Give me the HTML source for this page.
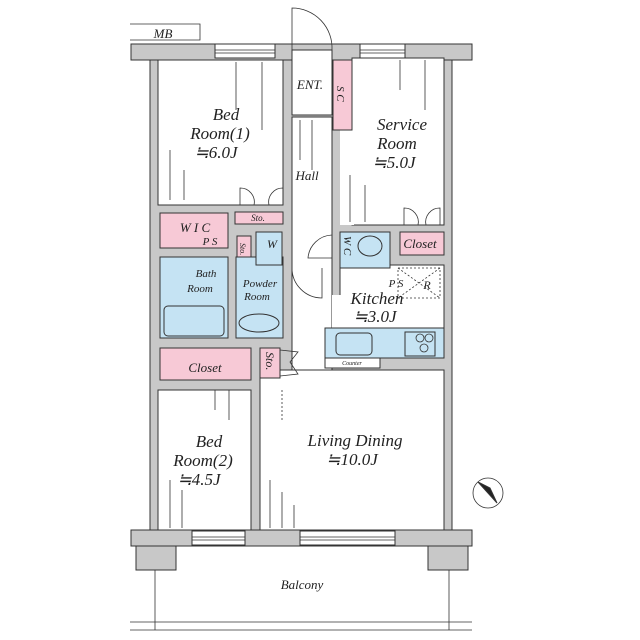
<!DOCTYPE html>
<html><head><meta charset="utf-8"><style>
html,body{margin:0;padding:0;background:#fff;width:640px;height:640px;overflow:hidden}
text{font-family:"Liberation Serif",serif;font-style:italic;fill:#222}
</style></head><body>
<svg width="640" height="640" viewBox="0 0 640 640" xmlns="http://www.w3.org/2000/svg">
<g stroke="#333" stroke-width="1">
<!-- MB -->
<polyline points="130,40 200,40 200,24 130,24" fill="none" stroke-width="0.8"/>
<!-- gray shell -->
<rect x="150" y="44" width="302" height="502" fill="#c8c8c8"/>
<rect x="131" y="44" width="341" height="16" fill="#c8c8c8"/>
<rect x="131" y="530" width="341" height="16" fill="#c8c8c8"/>
<rect x="136" y="546" width="40" height="24" fill="#c8c8c8"/>
<rect x="428" y="546" width="40" height="24" fill="#c8c8c8"/>
<!-- rooms -->
<g fill="#fff">
<rect x="158" y="60" width="125" height="145"/>
<rect x="292" y="50" width="40" height="65"/>
<rect x="292" y="117" width="40" height="253"/>
<rect x="352" y="58" width="92" height="167"/>
<rect x="340" y="130" width="14" height="95" stroke="none"/>
<rect x="340" y="265" width="104" height="63"/>
<rect x="260" y="370" width="184" height="160"/>
<rect x="332" y="295" width="12" height="33" stroke="none"/>
<rect x="158" y="390" width="93" height="140"/>
<rect x="325" y="358" width="55" height="10"/>
</g>
<g fill="#f7c9d6">
<rect x="333" y="60" width="19" height="70"/>
<rect x="400" y="232" width="44" height="23"/>
<rect x="160" y="213" width="68" height="35"/>
<rect x="235" y="212" width="48" height="12"/>
<rect x="237" y="236" width="14" height="27"/>
<rect x="160" y="348" width="91" height="32"/>
<rect x="260" y="348" width="20" height="30"/>
</g>
<g fill="#c5e3f3">
<rect x="340" y="232" width="50" height="36"/>
<rect x="160" y="257" width="68" height="81"/>
<rect x="236" y="257" width="47" height="81"/>
<rect x="256" y="232" width="26" height="33"/>
<rect x="325" y="328" width="119" height="30"/>
<rect x="164" y="306" width="60" height="30" rx="4"/>
<rect x="336" y="333" width="36" height="22" rx="4"/>
<rect x="405" y="332" width="30" height="24"/>
<ellipse cx="259" cy="323" rx="20" ry="9"/>
<ellipse cx="370" cy="246" rx="12" ry="10"/>
</g>
<!-- windows -->
<g fill="#fff">
<rect x="215" y="44" width="60" height="14"/><rect x="360" y="44" width="45" height="14"/>
<rect x="192" y="531" width="53" height="14"/><rect x="300" y="531" width="95" height="14"/>
</g>
<g fill="none" stroke-width="0.8">
<line x1="215" y1="50" x2="275" y2="50"/><line x1="215" y1="53" x2="275" y2="53"/>
<line x1="360" y1="50" x2="405" y2="50"/><line x1="360" y1="53" x2="405" y2="53"/>
<line x1="192" y1="537" x2="245" y2="537"/><line x1="192" y1="540" x2="245" y2="540"/>
<line x1="300" y1="537" x2="395" y2="537"/><line x1="300" y1="540" x2="395" y2="540"/>
<!-- doors -->
<path d="M292,50 L292,8 A40,40 0 0 1 332,50"/>
<path d="M240,205 L240,188 A14,14 0 0 1 254,205 M283,205 L283,188 A14,14 0 0 0 269,205"/>
<path d="M404,225 L404,208 A14,14 0 0 1 418,225 M440,225 L440,208 A14,14 0 0 0 426,225"/>
<path d="M332,235 A25,25 0 0 0 308,258 L332,258"/>
<path d="M292,268 A30,30 0 0 0 322,298 L322,268"/>
<path d="M280,350 L298,352 L290,362 L298,374 L280,376"/>
<circle cx="420" cy="338" r="4"/><circle cx="429" cy="338" r="4"/><circle cx="424" cy="348" r="4"/>
<!-- floor lines -->
<line x1="236" y1="62" x2="236" y2="110"/><line x1="262" y1="62" x2="262" y2="130"/>
<line x1="170" y1="150" x2="170" y2="200"/><line x1="184" y1="170" x2="184" y2="200"/>
<line x1="300" y1="120" x2="300" y2="160"/><line x1="312" y1="120" x2="312" y2="170"/>
<line x1="425" y1="60" x2="425" y2="110"/><line x1="400" y1="60" x2="400" y2="90"/>
<line x1="350" y1="175" x2="350" y2="222"/><line x1="365" y1="185" x2="365" y2="222"/>
<line x1="215" y1="390" x2="215" y2="410"/><line x1="229" y1="390" x2="229" y2="420"/>
<line x1="170" y1="480" x2="170" y2="528"/><line x1="182" y1="490" x2="182" y2="528"/>
<line x1="270" y1="480" x2="270" y2="528"/><line x1="282" y1="492" x2="282" y2="528"/><line x1="294" y1="505" x2="294" y2="528"/>
<!-- balcony -->
<line x1="130" y1="622" x2="472" y2="622"/><line x1="130" y1="630" x2="472" y2="630"/>
<line x1="155" y1="570" x2="155" y2="630"/><line x1="449" y1="570" x2="449" y2="630"/>
<line x1="282" y1="390" x2="282" y2="420" stroke-dasharray="2,2"/>
<rect x="398" y="268" width="42" height="30" stroke-dasharray="2,2"/>
<line x1="398" y1="268" x2="440" y2="298" stroke-dasharray="2,2"/><line x1="440" y1="268" x2="398" y2="298" stroke-dasharray="2,2"/>
<circle cx="488" cy="493" r="15"/>
</g>
<path d="M478,482 L497,503 L490,488 Z" fill="#222"/>
</g>
<g font-size="17" text-anchor="middle">
<text x="226" y="120">Bed</text><text x="220" y="139">Room(1)</text><text x="216" y="158">≒6.0J</text>
<text x="402" y="130">Service</text><text x="397" y="149">Room</text><text x="394" y="168">≒5.0J</text>
<text x="377" y="304">Kitchen</text><text x="375" y="322">≒3.0J</text>
<text x="209" y="447">Bed</text><text x="203" y="466">Room(2)</text><text x="199" y="485">≒4.5J</text>
<text x="355" y="446">Living Dining</text><text x="352" y="465">≒10.0J</text>
</g>
<g font-size="13" text-anchor="middle">
<text x="310" y="89">ENT.</text><text x="307" y="180">Hall</text>
<text x="163" y="38">MB</text><text x="195" y="232">W I C</text>
<text x="205" y="372">Closet</text><text x="420" y="248">Closet</text>
<text x="302" y="589">Balcony</text><text x="272" y="248" font-size="12">W</text>
<text x="427" y="289" font-size="12">R</text>
</g>
<g font-size="11" text-anchor="middle">
<text x="206" y="277">Bath</text><text x="200" y="292">Room</text>
<text x="260" y="287">Powder</text><text x="257" y="300">Room</text>
<text x="210" y="245">P S</text><text x="396" y="287">P S</text>
<text x="258" y="221" font-size="9">Sto.</text>
<text x="352" y="365" font-size="6">Counter</text>
</g>
<text x="0" y="0" font-size="11" transform="translate(337,86) rotate(90)">S C</text>
<text x="0" y="0" font-size="12" transform="translate(266,352) rotate(90)">Sto.</text>
<text x="0" y="0" font-size="8" transform="translate(240,243) rotate(90)">Sto.</text>
<text x="0" y="0" font-size="11" transform="translate(344,236) rotate(90)">W C</text>
</svg>
</body></html>
